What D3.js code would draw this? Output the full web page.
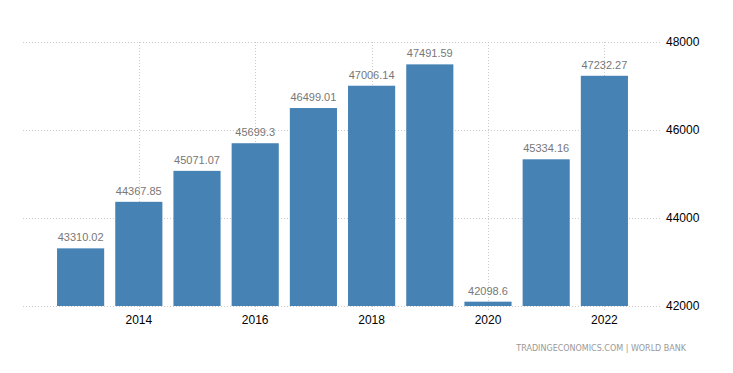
<!DOCTYPE html>
<html>
<head>
<meta charset="utf-8">
<script src="https://cdn.jsdelivr.net/npm/d3@7"></script>
<style>
  body { margin: 0; background: #fff; }
  text { font-family: "Liberation Sans", Arial, sans-serif; }
</style>
</head>
<body>
<div id="chart"></div>
<script>
const years = [2013, 2014, 2015, 2016, 2017, 2018, 2019, 2020, 2021, 2022]
const values = [43310.02, 44367.85, 45071.07, 45699.3, 46499.01, 47006.14, 47491.59, 42098.6, 45334.16, 47232.27]
const yTicks = [42000, 44000, 46000, 48000]
const xTicks = [2014, 2016, 2018, 2020, 2022]

const width = 733
const height = 373

const svg = d3
  .select('#chart')
  .append('svg')
  .attr('width', width)
  .attr('height', height)

const x = d3
  .scaleBand()
  .domain(years)
  .range([23, 662])
  .paddingInner(0.19)
  .paddingOuter(0.585)

const y = d3.scaleLinear().domain([42000, 48000]).range([306, 42])

// horizontal grid
svg
  .selectAll('.hgrid')
  .data(yTicks)
  .enter()
  .append('line')
  .attr('x1', 23)
  .attr('x2', 662)
  .attr('y1', d => Math.round(y(d)) + 0.5)
  .attr('y2', d => Math.round(y(d)) + 0.5)
  .attr('stroke', '#ccc')
  .attr('stroke-dasharray', '1,2')

// vertical grid at ticks
svg
  .selectAll('.vgrid')
  .data(xTicks)
  .enter()
  .append('line')
  .attr('x1', d => Math.round(x(d) + x.bandwidth() / 2) + 0.5)
  .attr('x2', d => Math.round(x(d) + x.bandwidth() / 2) + 0.5)
  .attr('y1', 42)
  .attr('y2', 312)
  .attr('stroke', '#ccc')
  .attr('stroke-dasharray', '1,2')

svg
  .selectAll('.bar')
  .data(values)
  .enter()
  .append('rect')
  .attr('x', (d, i) => x(years[i]))
  .attr('width', x.bandwidth())
  .attr('y', d => y(d))
  .attr('height', d => y(42000) - y(d))
  .attr('fill', '#4682b4')

svg
  .selectAll('.val')
  .data(values)
  .enter()
  .append('text')
  .text(d => d)
  .attr('x', (d, i) => x(years[i]) + x.bandwidth() / 2)
  .attr('y', d => y(d) - 7)
  .attr('text-anchor', 'middle')
  .attr('font-size', 11)
  .attr('fill', '#777')

svg
  .selectAll('.xlab')
  .data(xTicks)
  .enter()
  .append('text')
  .text(d => d)
  .attr('x', d => x(d) + x.bandwidth() / 2)
  .attr('y', 324)
  .attr('text-anchor', 'middle')
  .attr('font-size', 12)
  .attr('fill', '#000')

svg
  .selectAll('.ylab')
  .data(yTicks)
  .enter()
  .append('text')
  .text(d => d)
  .attr('x', 666)
  .attr('y', d => y(d) + 4)
  .attr('font-size', 12)
  .attr('fill', '#000')

svg
  .append('text')
  .text('TRADINGECONOMICS.COM | WORLD BANK')
  .attr('x', 686)
  .attr('y', 351)
  .attr('text-anchor', 'end')
  .style('font-family', '"DejaVu Sans"')
  .attr('font-size', 8)
  .attr('fill', '#999')
</script>
</body>
</html>
